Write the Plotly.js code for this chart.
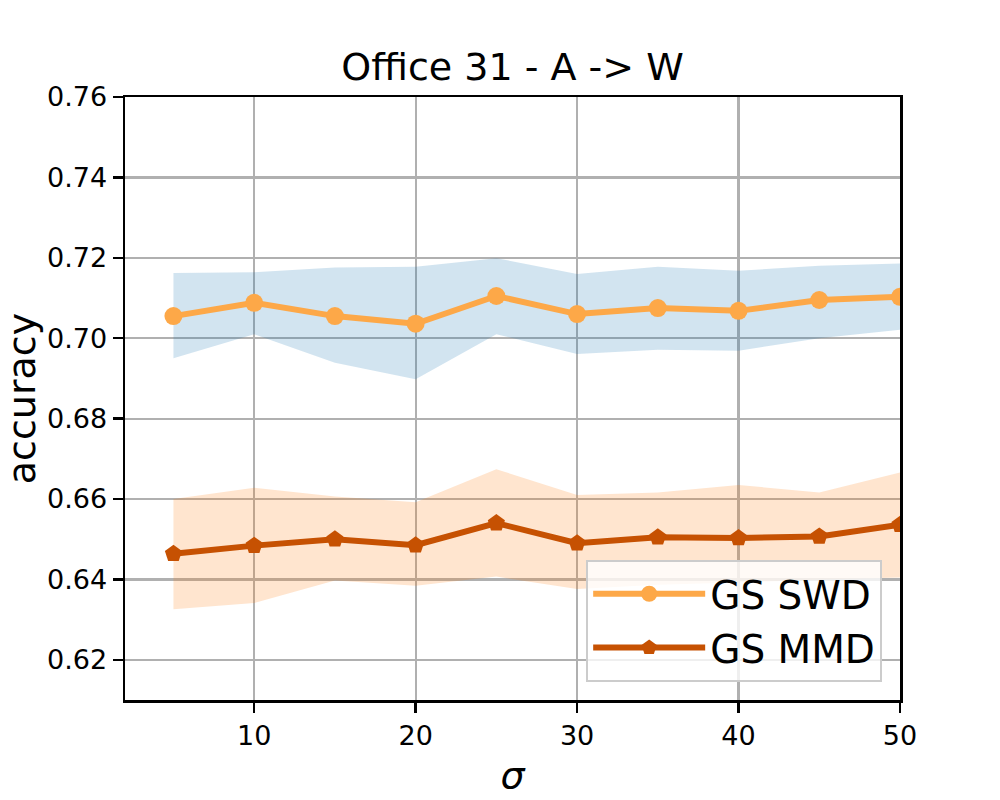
<!DOCTYPE html>
<html>
<head>
<meta charset="utf-8">
<script src="https://cdn.plot.ly/plotly-3.0.1.min.js"></script>
<style>
  body { margin: 0; background: #fff; }
  #chart { width: 1000px; height: 800px; }
</style>
</head>
<body>
<div id="chart"></div>
<script>
// sigma values on the x axis
var sigma = [5, 10, 15, 20, 25, 30, 35, 40, 45, 50];

// GS SWD mean accuracy and its band
var swdMean  = [0.7055, 0.7088, 0.7055, 0.7036, 0.7105, 0.7060, 0.7075, 0.7068, 0.7095, 0.7103];
var swdUpper = [0.7162, 0.7164, 0.7176, 0.7178, 0.7199, 0.7160, 0.7178, 0.7168, 0.7180, 0.7186];
var swdLower = [0.6950, 0.7010, 0.6939, 0.6898, 0.7010, 0.6961, 0.6971, 0.6969, 0.7000, 0.7021];

// GS MMD mean accuracy and its band
var mmdMean  = [0.6464, 0.6484, 0.6500, 0.6485, 0.6540, 0.6490, 0.6505, 0.6503, 0.6507, 0.6536];
var mmdUpper = [0.6600, 0.6628, 0.6606, 0.6592, 0.6674, 0.6610, 0.6616, 0.6635, 0.6616, 0.6666];
var mmdLower = [0.6326, 0.6341, 0.6397, 0.6384, 0.6407, 0.6376, 0.6387, 0.6392, 0.6400, 0.6405];

var swdColor = '#fda848';
var mmdColor = '#c65102';

function band(lower, upper, fill) {
  return [
    { x: sigma, y: lower, mode: 'lines', line: { width: 0 }, showlegend: false, hoverinfo: 'skip' },
    { x: sigma, y: upper, mode: 'lines', line: { width: 0 }, fill: 'tonexty',
      fillcolor: fill, showlegend: false, hoverinfo: 'skip' }
  ];
}

var data = []
  .concat(band(swdLower, swdUpper, 'rgba(31,119,180,0.2)'))
  .concat(band(mmdLower, mmdUpper, 'rgba(255,127,14,0.2)'));

data.push({
  x: sigma, y: swdMean, name: 'GS SWD', mode: 'lines+markers',
  line: { color: swdColor, width: 6 },
  marker: { color: swdColor, size: 18, symbol: 'circle' }
});
data.push({
  x: sigma, y: mmdMean, name: 'GS MMD', mode: 'lines+markers',
  line: { color: mmdColor, width: 6 },
  marker: { color: mmdColor, size: 18, symbol: 'pentagon' }
});

var axisCommon = {
  showline: true, linecolor: '#000', linewidth: 2.5, mirror: true,
  ticks: 'outside', ticklen: 10, tickwidth: 2.5, tickcolor: '#000',
  showgrid: true, gridcolor: '#b0b0b0', gridwidth: 2.2,
  zeroline: false,
  tickfont: { family: 'DejaVu Sans', size: 27, color: '#000' }
};

var layout = {
  width: 1000, height: 800,
  paper_bgcolor: '#fff', plot_bgcolor: '#fff',
  margin: { l: 125, r: 100, t: 97, b: 100 },
  font: { family: 'DejaVu Sans', color: '#000' },
  title: {
    text: 'Office 31 - A -> W',
    font: { family: 'DejaVu Sans', size: 38, color: '#000' },
    x: 0.5125, xanchor: 'center', y: 0.9, yanchor: 'bottom'
  },
  xaxis: Object.assign({}, axisCommon, {
    range: [2, 50], tickvals: [10, 20, 30, 40, 50],
    title: { text: '<i>σ</i>', font: { family: 'DejaVu Sans', size: 38, color: '#000' }, standoff: 12 }
  }),
  yaxis: Object.assign({}, axisCommon, {
    range: [0.61, 0.76], dtick: 0.02, tick0: 0.62, tickformat: '.2f',
    title: { text: 'accuracy', font: { family: 'DejaVu Sans', size: 38, color: '#000' }, standoff: 24 }
  }),
  legend: {
    x: 0.977, xanchor: 'right', y: 0.03, yanchor: 'bottom',
    bgcolor: 'rgba(255,255,255,0.8)', bordercolor: '#cccccc', borderwidth: 2,
    font: { family: 'DejaVu Sans', size: 39, color: '#000' },
    traceorder: 'normal',
    itemwidth: 112
  },
  showlegend: true
};

Plotly.newPlot('chart', data, layout, { displayModeBar: false, staticPlot: true });
</script>
</body>
</html>
